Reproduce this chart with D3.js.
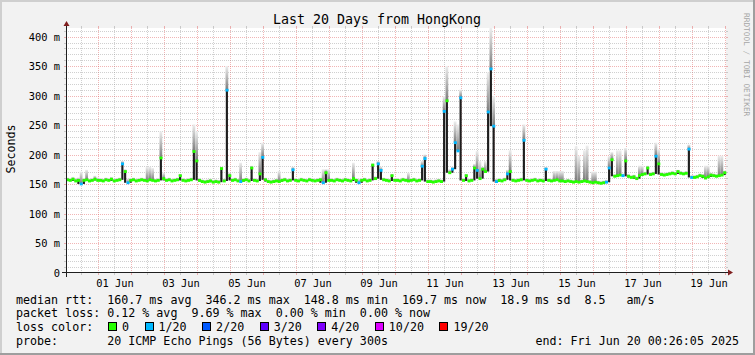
<!DOCTYPE html>
<html>
<head>
<meta charset="utf-8">
<script src="https://cdn.jsdelivr.net/npm/d3@7"></script>
<style>
  body { margin: 0; background: #fff; }
  svg text { font-family: "DejaVu Sans Mono", monospace; }
</style>
</head>
<body>
<div id="chart"></div>
<script>
var title = 'Last 20 Days from HongKong';
var start = Date.UTC(2025, 4, 31, 0, 26, 5),
  end = Date.UTC(2025, 5, 20, 0, 26, 5),
  stepMs = 2 * 3600 * 1000;

// one value per 2 hours, 12 per day (May 31 .. Jun 19)
var median = [
  158,157,159,156,157,151,157,158,156,157,159,157,
  157,156,158,157,159,156,157,158,185,172,153,157,
  158,156,157,158,157,156,158,157,156,157,195,160,
  157,158,156,157,158,165,157,156,157,158,206,190,
  157,155,154,155,156,154,155,154,177,156,310,165,
  157,158,156,155,157,158,156,178,157,156,168,196,
  158,155,154,155,156,155,157,158,156,157,175,157,
  156,158,157,156,158,157,156,157,158,153,170,157,
  157,156,158,157,156,158,157,156,160,157,153,157,
  158,156,157,183,160,185,174,158,157,156,165,157,
  157,156,158,157,156,157,158,156,157,181,194,155,
  155,154,155,156,155,274,292,170,176,221,207,297,
  157,165,156,157,178,174,160,176,172,273,346,249,
  155,157,156,158,168,172,157,156,157,158,225,157,
  156,157,158,156,157,156,176,157,156,157,158,156,
  156,155,156,155,154,155,154,155,156,155,154,153,
  154,153,152,153,154,178,192,164,165,166,165,190,
  164,162,163,160,165,167,168,178,167,168,198,185,
  167,166,167,168,169,168,172,169,168,169,210,162,
  162,163,165,164,161,163,166,165,164,165,166,170
];

// top of the smoke (slowest ping) for each step
var smokeTop = [
  162,161,163,161,162,172,161,175,160,161,165,162,
  161,160,162,161,163,160,161,162,190,176,160,161,
  162,160,161,162,161,180,180,178,160,161,240,170,
  161,162,160,161,162,168,161,160,161,162,252,240,
  161,159,158,159,160,158,159,158,180,160,351,170,
  161,162,160,187,161,162,160,182,161,160,205,221,
  162,159,158,159,160,173,161,162,160,161,180,161,
  160,162,161,160,162,161,160,161,162,176,176,176,
  161,160,162,161,160,162,161,160,187,161,160,161,
  162,160,161,186,164,190,180,162,161,160,168,161,
  161,160,162,161,170,161,162,160,161,190,201,159,
  159,158,159,160,159,300,351,176,180,257,252,311,
  161,168,160,161,185,207,190,180,190,340,416,300,
  160,161,160,162,175,208,161,160,161,162,252,161,
  160,161,162,160,161,160,180,161,160,173,173,173,
  173,159,160,159,158,215,199,159,208,216,158,172,
  172,157,156,157,158,198,205,168,208,208,169,212,
  168,166,167,164,182,182,172,182,171,172,221,210,
  171,170,171,172,173,172,175,173,172,173,218,166,
  166,167,169,168,182,182,170,169,168,199,199,174
];

// lost pings out of 20 for each step
var lossCount = [
  0,0,0,0,0,1,0,0,0,0,0,0,
  0,0,0,0,0,0,0,0,1,0,1,0,
  0,0,0,0,0,0,0,0,0,0,0,0,
  0,0,0,0,0,0,0,0,0,0,0,0,
  0,0,0,0,0,0,0,0,0,0,1,0,
  0,0,0,1,0,0,0,0,0,0,0,1,
  0,0,0,0,0,0,0,0,0,0,1,0,
  0,0,0,0,0,0,0,0,0,1,0,0,
  0,0,0,0,0,0,0,0,0,0,1,0,
  0,0,0,0,0,1,1,0,0,0,0,0,
  0,0,0,0,0,0,0,0,0,1,1,0,
  0,0,0,0,0,1,0,0,1,1,1,1,
  0,0,0,0,0,1,0,0,0,1,1,1,
  1,0,0,0,1,0,0,0,0,0,1,0,
  0,0,0,0,0,0,1,0,0,0,0,0,
  0,0,0,0,0,0,0,0,0,0,0,0,
  0,0,0,0,1,1,0,0,0,0,1,0,
  0,0,0,0,0,0,0,0,0,0,1,0,
  0,0,0,0,0,0,0,0,0,0,1,1,
  0,0,0,0,0,0,0,0,0,0,0,0
];

var lossLevels = [0, 1, 2, 3, 4, 10, 19];
var lossLabels = ['0', '1/20', '2/20', '3/20', '4/20', '10/20', '19/20'];
var lossColors = ['#26ff00', '#00b8ff', '#0059ff', '#5e00ff', '#7e00ff', '#dd00ff', '#ff0000'];

var xTickLabels = ['01 Jun', '03 Jun', '05 Jun', '07 Jun', '09 Jun', '11 Jun', '13 Jun', '15 Jun', '17 Jun', '19 Jun'];
var yTicks = [0, 50, 100, 150, 200, 250, 300, 350, 400];
var yTickLabels = ['0', '50 m', '100 m', '150 m', '200 m', '250 m', '300 m', '350 m', '400 m'];
var yMax = 415.44;

var statLines = [
  'median rtt:  160.7 ms avg  346.2 ms max  148.8 ms min  169.7 ms now  18.9 ms sd  8.5   am/s',
  'packet loss: 0.12 % avg  9.69 % max  0.00 % min  0.00 % now'
];
var probeLine = 'probe:       20 ICMP Echo Pings (56 Bytes) every 300s';
var endLine = 'end: Fri Jun 20 00:26:05 2025';

var width = 755,
  height = 355;

var plot = { left: 66, top: 28, width: 660, height: 245 };
var bottom = plot.top + plot.height,
  right = plot.left + plot.width;

var svg = d3.select('#chart')
  .append('svg')
  .attr('width', width)
  .attr('height', height);

// background and bevel frame
svg.append('rect').attr('width', width).attr('height', height).attr('fill', '#f2f2f2');
svg.append('rect').attr('x', 0).attr('y', 0).attr('width', width).attr('height', 2).attr('fill', '#cfcfcf');
svg.append('rect').attr('x', 0).attr('y', 0).attr('width', 2).attr('height', height).attr('fill', '#cfcfcf');
svg.append('rect').attr('x', 0).attr('y', height - 2).attr('width', width).attr('height', 2).attr('fill', '#9e9e9e');
svg.append('rect').attr('x', width - 2).attr('y', 0).attr('width', 2).attr('height', height).attr('fill', '#9e9e9e');

svg.append('rect')
  .attr('x', plot.left).attr('y', plot.top)
  .attr('width', plot.width).attr('height', plot.height)
  .attr('fill', '#ffffff');

var xScale = d3.scaleUtc()
  .domain([start, end])
  .range([plot.left, right]);

var yScale = d3.scaleLinear()
  .domain([0, yMax])
  .range([bottom, plot.top]);

var lossColor = d3.scaleThreshold()
  .domain(lossLevels.slice(1))
  .range(lossColors);

// grid
var gridMinor = 'rgba(143,143,143,0.42)',
  gridMajor = 'rgba(222,79,79,0.42)';

var grid = svg.append('g').attr('shape-rendering', 'crispEdges');

function vLine(x, color) {
  var px = Math.floor(x) + 0.5;
  grid.append('line').attr('x1', px).attr('x2', px)
    .attr('y1', plot.top).attr('y2', bottom)
    .attr('stroke', color).attr('stroke-dasharray', '1,1');
  grid.append('line').attr('x1', px).attr('x2', px)
    .attr('y1', bottom).attr('y2', bottom + 2).attr('stroke', color);
  grid.append('line').attr('x1', px).attr('x2', px)
    .attr('y1', plot.top - 2).attr('y2', plot.top).attr('stroke', color);
}

function hLine(y, color) {
  var py = Math.floor(y) + 0.5;
  grid.append('line').attr('x1', plot.left).attr('x2', right)
    .attr('y1', py).attr('y2', py)
    .attr('stroke', color).attr('stroke-dasharray', '1,1');
  grid.append('line').attr('x1', plot.left - 2).attr('x2', plot.left)
    .attr('y1', py).attr('y2', py).attr('stroke', color);
  grid.append('line').attr('x1', right).attr('x2', right + 2)
    .attr('y1', py).attr('y2', py).attr('stroke', color);
}

d3.utcHour.every(12).range(start, end).forEach(function(d) {
  if (d.getUTCHours() === 12) vLine(xScale(d), gridMinor);
});
d3.utcDay.range(start, end).forEach(function(d) {
  vLine(xScale(d), gridMajor);
});
d3.range(10, yMax, 10).forEach(function(v) {
  if (v % 50 !== 0) hLine(yScale(v), gridMinor);
});
yTicks.slice(1).forEach(function(v) {
  hLine(yScale(v), gridMajor);
});

// smoke
var defs = svg.append('defs');
var grad = defs.append('linearGradient')
  .attr('id', 'smoke')
  .attr('x1', 0).attr('y1', 1).attr('x2', 0).attr('y2', 0);
grad.append('stop').attr('offset', 0).attr('stop-color', '#7a7a7a');
grad.append('stop').attr('offset', 0.5).attr('stop-color', '#b4b4b4');
grad.append('stop').attr('offset', 1).attr('stop-color', '#eeeeee');

var steps = median.map(function(m, i) {
  var t0 = start + i * stepMs;
  var prev = i > 0 ? median[i - 1] : m,
    next = i < median.length - 1 ? median[i + 1] : m;
  return {
    x0: xScale(t0),
    x1: xScale(t0 + stepMs),
    med: m,
    low: Math.min(prev, m, next),
    top: Math.min(smokeTop[i], yMax),
    loss: lossCount[i]
  };
});

var data = svg.append('g');

data.selectAll('.smoke')
  .data(steps.filter(function(d) { return d.top > d.med; }))
  .enter()
  .append('rect')
  .attr('class', 'smoke')
  .attr('x', function(d) { return d.x0; })
  .attr('width', function(d) { return d.x1 - d.x0; })
  .attr('y', function(d) { return yScale(d.top); })
  .attr('height', function(d) { return yScale(d.med) - yScale(d.top); })
  .attr('fill', 'url(#smoke)');

// dark trace between median jumps
data.selectAll('.jump')
  .data(steps.filter(function(d) { return d.med > d.low; }))
  .enter()
  .append('rect')
  .attr('class', 'jump')
  .attr('x', function(d) { return d.x0 + 0.3; })
  .attr('width', function(d) { return d.x1 - d.x0 - 0.6; })
  .attr('y', function(d) { return yScale(d.med); })
  .attr('height', function(d) { return yScale(d.low) - yScale(d.med); })
  .attr('fill', '#1e1e1e');

data.selectAll('.med')
  .data(steps)
  .enter()
  .append('rect')
  .attr('class', 'med')
  .attr('x', function(d) { return d.x0; })
  .attr('width', function(d) { return d.x1 - d.x0 + 0.3; })
  .attr('y', function(d) { return yScale(d.med) - 1.4; })
  .attr('height', 2.8)
  .attr('fill', function(d) { return lossColor(d.loss); });

// axes
var axisColor = '#1f1f1f',
  arrowColor = '#801f1f';

svg.append('line')
  .attr('x1', plot.left - 4).attr('x2', right + 4)
  .attr('y1', bottom - 0.5).attr('y2', bottom - 0.5)
  .attr('stroke', axisColor).attr('shape-rendering', 'crispEdges');
svg.append('line')
  .attr('x1', plot.left + 0.5).attr('x2', plot.left + 0.5)
  .attr('y1', bottom + 4).attr('y2', plot.top - 4)
  .attr('stroke', axisColor).attr('shape-rendering', 'crispEdges');

svg.append('path')
  .attr('d', 'M' + (right + 2) + ',' + (bottom - 3.5) + 'L' + (right + 2) + ',' + (bottom + 2.5) + 'L' + (right + 7) + ',' + (bottom - 0.5) + 'Z')
  .attr('fill', arrowColor);
svg.append('path')
  .attr('d', 'M' + (plot.left - 2.5) + ',' + (plot.top - 2) + 'L' + (plot.left + 3.5) + ',' + (plot.top - 2) + 'L' + (plot.left + 0.5) + ',' + (plot.top - 7) + 'Z')
  .attr('fill', arrowColor);

var axisFont = '10.4px',
  legendFont = '11.66px';

svg.append('g')
  .selectAll('text')
  .data(yTicks)
  .enter()
  .append('text')
  .attr('x', 60)
  .attr('y', function(d) { return yScale(d) + 3.8; })
  .attr('text-anchor', 'end')
  .style('font-size', axisFont)
  .text(function(d, i) { return yTickLabels[i]; });

var parseDay = d3.utcParse('%d %b %Y');
svg.append('g')
  .selectAll('text')
  .data(xTickLabels)
  .enter()
  .append('text')
  .attr('x', function(d) { return xScale(d3.utcHour.offset(parseDay(d + ' 2025'), 12)); })
  .attr('y', 287)
  .attr('text-anchor', 'middle')
  .style('font-size', axisFont)
  .text(function(d) { return d; });

svg.append('text')
  .attr('x', 377)
  .attr('y', 24)
  .attr('text-anchor', 'middle')
  .style('font-size', '13.3px')
  .text(title);

svg.append('text')
  .attr('transform', 'translate(15,149) rotate(-90)')
  .attr('text-anchor', 'middle')
  .style('font-size', legendFont)
  .text('Seconds');

svg.append('text')
  .attr('transform', 'translate(744,13) rotate(90)')
  .style('font-size', '7.8px')
  .attr('fill', '#a6a6a6')
  .text('RRDTOOL / TOBI OETIKER');

// legend
var legendX = 16,
  rowY = [303.5, 317.3, 331.1, 345];

statLines.forEach(function(s, i) {
  svg.append('text')
    .attr('x', legendX).attr('y', rowY[i])
    .attr('xml:space', 'preserve')
    .style('white-space', 'pre')
    .style('font-size', legendFont)
    .text(s);
});

svg.append('text')
  .attr('x', legendX).attr('y', rowY[2])
  .style('font-size', legendFont)
  .text('loss color:');

var bx = 108;
lossLabels.forEach(function(label, i) {
  svg.append('rect')
    .attr('x', bx + 0.5).attr('y', rowY[2] - 8.5)
    .attr('width', 8).attr('height', 8)
    .attr('fill', lossColors[i])
    .attr('stroke', '#000').attr('stroke-width', 1)
    .attr('shape-rendering', 'crispEdges');
  var t = svg.append('text')
    .attr('x', bx + 14).attr('y', rowY[2])
    .style('font-size', legendFont)
    .text(label);
  bx = bx + 14 + t.node().getComputedTextLength() + 15.5;
});

svg.append('text')
  .attr('x', legendX).attr('y', rowY[3])
  .attr('xml:space', 'preserve')
  .style('white-space', 'pre')
  .style('font-size', legendFont)
  .text(probeLine);

svg.append('text')
  .attr('x', 739).attr('y', rowY[3])
  .attr('text-anchor', 'end')
  .style('font-size', legendFont)
  .text(endLine);
</script>
</body>
</html>
